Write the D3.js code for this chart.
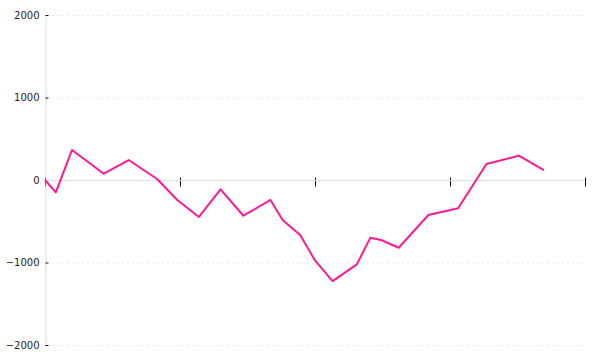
<!DOCTYPE html>
<html>
<head>
<meta charset="utf-8">
<script src="https://cdn.jsdelivr.net/npm/d3@7"></script>
<style>
	body { margin: 0; background: #fff; }
	svg { display: block; }
</style>
</head>
<body>
<script>
// data
var xValues = [0, 0.8, 2.0, 4.35, 6.2, 8.3, 9.8, 11.4, 13.0, 14.7, 16.7, 17.6, 18.4, 18.9,
	20.0, 21.3, 23.1, 24.1, 24.9, 26.2, 28.4, 30.6, 32.7, 35.1, 36.95];
var yValues = [0, -149, 364, 76, 242, 12, -242, -448, -113, -433, -242, -485, -598, -667,
	-975, -1225, -1022, -699, -727, -821, -424, -343, 194, 295, 121];
var xTicks = [0, 10, 20, 30, 40];
var yTicks = [-2000, -1000, 0, 1000, 2000];

function generateViz() {
	var width = 600,
		height = 360;

	var svg = d3.select("body")
		.append("svg")
		.attr("width", width)
		.attr("height", height);

	var x = d3.scaleLinear().domain([0, 40]).range([45, 585]);
	var y = d3.scaleLinear().domain([-2000, 2000]).range([345, 15]);

	// dashed grid lines
	svg.append("g")
		.selectAll("line")
		.data(yTicks.filter(function(d) { return d !== 0; }))
		.enter()
		.append("line")
		.attr("x1", 52)
		.attr("x2", 585)
		.attr("y1", function(d) { return y(d) + 0.5; })
		.attr("y2", function(d) { return y(d) + 0.5; })
		.attr("stroke", "#e6e6e6")
		.attr("stroke-dasharray", "2,3");

	// x axis: ticks without labels
	var xAxis = svg.append("g")
		.attr("transform", "translate(0," + (y(0) + 0.5) + ")")
		.call(d3.axisBottom(x).tickValues(xTicks).tickFormat("").tickSize(6).tickSizeOuter(0));
	xAxis.selectAll(".tick line")
		.attr("y1", -3)
		.attr("stroke", "#111");
	xAxis.select(".domain").remove();

	// y axis
	var yAxis = svg.append("g")
		.attr("transform", "translate(45.5,0)")
		.call(d3.axisLeft(y).tickValues(yTicks).tickFormat(d3.format("d"))
			.tickSize(6).tickPadding(0).tickSizeOuter(0));
	yAxis.select(".domain").attr("stroke", "#dddddd");
	yAxis.selectAll(".tick line")
		.attr("x2", 3)
		.attr("stroke", "#111")
		.attr("stroke-dasharray", "4,1");
	yAxis.selectAll(".tick text")
		.attr("fill", "#222")
		.style("font-family", "DejaVu Sans, sans-serif")
		.style("font-size", "10px");

	// zero line over the x ticks
	svg.append("line")
		.attr("x1", 45)
		.attr("x2", 585)
		.attr("y1", y(0) + 0.5)
		.attr("y2", y(0) + 0.5)
		.attr("stroke", "#dddddd");

	var line = d3.line()
		.x(function(d, i) { return x(xValues[i]); })
		.y(function(d) { return y(d); });

	svg.append("path")
		.datum(yValues)
		.attr("d", line)
		.attr("fill", "none")
		.attr("stroke", "#ff1a94")
		.attr("stroke-width", 2)
		.attr("stroke-linejoin", "round");
} // generateViz()

generateViz();
</script>
</body>
</html>
